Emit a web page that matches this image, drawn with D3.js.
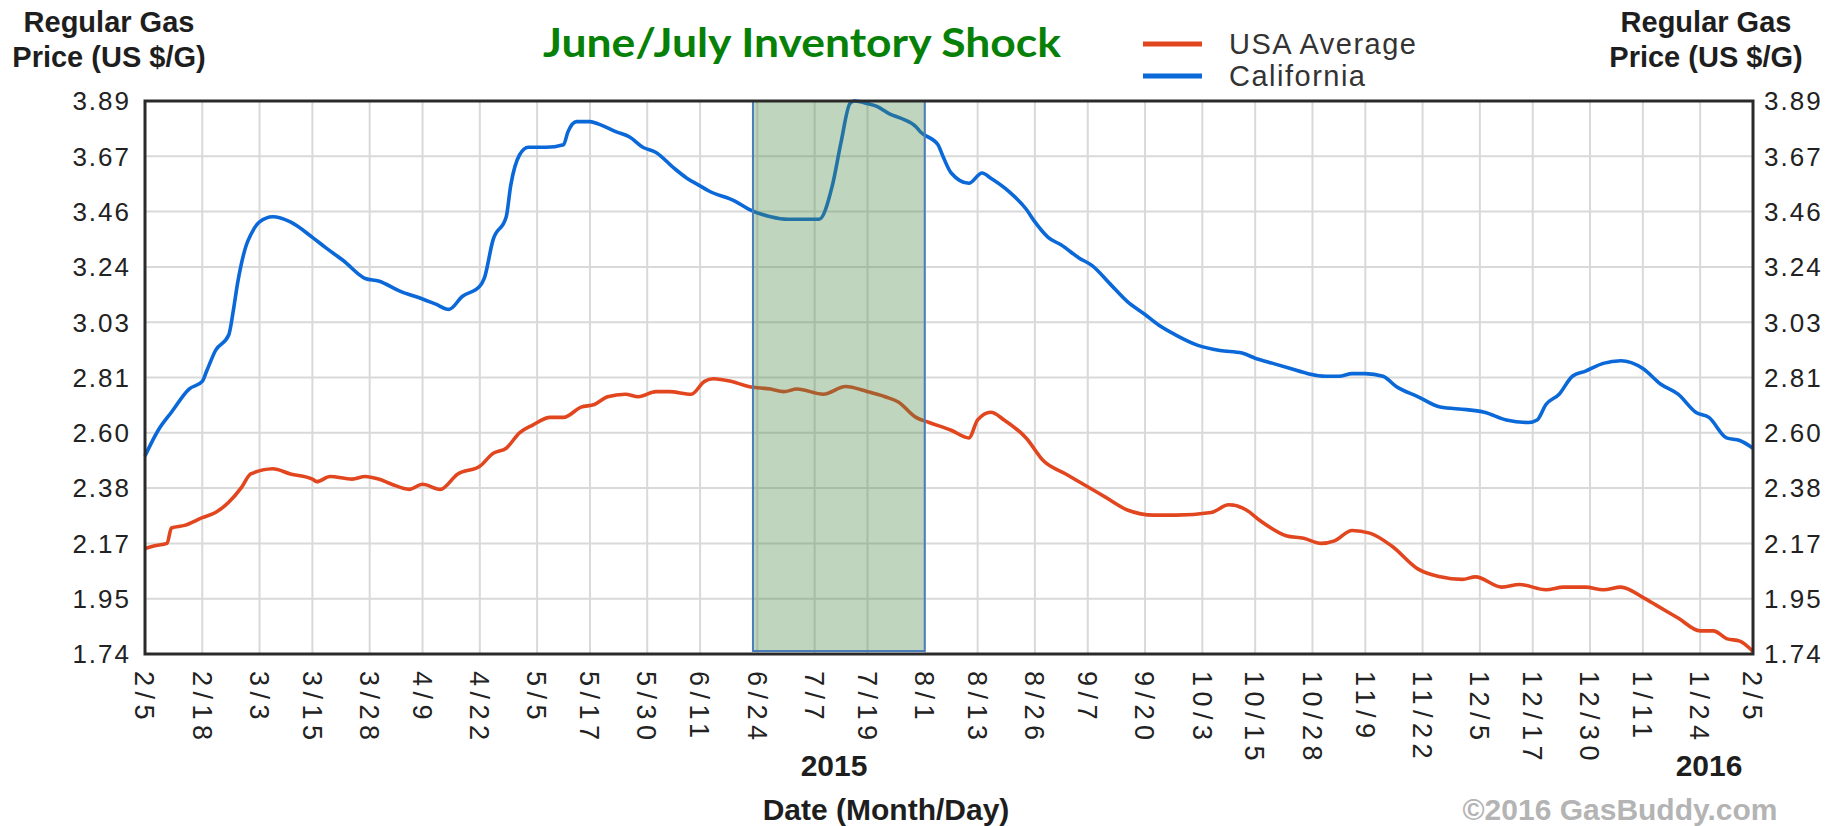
<!DOCTYPE html>
<html>
<head>
<meta charset="utf-8">
<script src="https://cdn.jsdelivr.net/npm/d3@7"></script>
<style>
  body { margin: 0; background: #fff; }
  svg text { font-family: "Liberation Sans", Arial, sans-serif; }
</style>
</head>
<body>
<svg id="chart" width="1839" height="826"></svg>
<script>
/* ================================
   DATA
================================ */

const tickDates = ["2015-02-05","2015-02-18","2015-03-03","2015-03-15","2015-03-28","2015-04-09",
  "2015-04-22","2015-05-05","2015-05-17","2015-05-30","2015-06-11","2015-06-24","2015-07-07",
  "2015-07-19","2015-08-01","2015-08-13","2015-08-26","2015-09-07","2015-09-20","2015-10-03",
  "2015-10-15","2015-10-28","2015-11-09","2015-11-22","2015-12-05","2015-12-17","2015-12-30",
  "2016-01-11","2016-01-24","2016-02-05"];

const yTickLabels = ["1.74","1.95","2.17","2.38","2.60","2.81","3.03","3.24","3.46","3.67","3.89"];

const caDates = ["2015-02-05","2015-02-08","2015-02-11","2015-02-15","2015-02-18","2015-02-19",
  "2015-02-21","2015-02-24","2015-02-25","2015-02-26","2015-02-28","2015-03-01","2015-03-03",
  "2015-03-06","2015-03-10","2015-03-15","2015-03-18","2015-03-22","2015-03-27","2015-03-30",
  "2015-04-04","2015-04-09","2015-04-12","2015-04-15","2015-04-18","2015-04-22","2015-04-23",
  "2015-04-25","2015-04-28","2015-04-29","2015-05-01","2015-05-03","2015-05-07","2015-05-11",
  "2015-05-12","2015-05-14","2015-05-17","2015-05-19","2015-05-23","2015-05-26","2015-05-29",
  "2015-06-01","2015-06-05","2015-06-08","2015-06-11","2015-06-13","2015-06-19","2015-06-22",
  "2015-06-27","2015-07-01","2015-07-06","2015-07-08","2015-07-11","2015-07-13","2015-07-15",
  "2015-07-16","2015-07-19","2015-07-21","2015-07-24","2015-07-27","2015-07-30","2015-07-31",
  "2015-08-04","2015-08-05","2015-08-07","2015-08-11","2015-08-14","2015-08-16","2015-08-20",
  "2015-08-24","2015-08-26","2015-08-29","2015-09-01","2015-09-05","2015-09-08","2015-09-12",
  "2015-09-16","2015-09-20","2015-09-23","2015-09-27","2015-10-02","2015-10-07","2015-10-12",
  "2015-10-15","2015-10-19","2015-10-23","2015-10-27","2015-10-31","2015-11-03","2015-11-06",
  "2015-11-09","2015-11-13","2015-11-16","2015-11-21","2015-11-26","2015-12-02","2015-12-06",
  "2015-12-11","2015-12-16","2015-12-18","2015-12-20","2015-12-23","2015-12-26","2015-12-29",
  "2016-01-02","2016-01-06","2016-01-11","2016-01-15","2016-01-19","2016-01-23","2016-01-26",
  "2016-01-30","2016-02-02","2016-02-05"];

const caPrices = [2.51,2.61,2.68,2.77,2.80,2.84,
  2.92,2.98,3.07,3.18,3.33,3.37,3.42,
  3.44,3.42,3.36,3.32,3.27,3.20,3.19,
  3.15,3.12,3.10,3.08,3.13,3.17,3.20,
  3.35,3.44,3.56,3.68,3.71,3.71,3.72,
  3.77,3.81,3.81,3.80,3.77,3.75,3.71,
  3.69,3.63,3.59,3.56,3.54,3.50,3.47,
  3.44,3.43,3.43,3.43,3.56,3.73,3.88,
  3.89,3.88,3.87,3.84,3.82,3.79,3.77,
  3.72,3.68,3.61,3.57,3.61,3.59,3.54,
  3.47,3.42,3.36,3.33,3.28,3.25,3.18,
  3.11,3.06,3.02,2.98,2.94,2.92,2.91,
  2.89,2.87,2.85,2.83,2.82,2.82,2.83,
  2.83,2.82,2.78,2.74,2.70,2.69,2.68,
  2.65,2.64,2.65,2.71,2.75,2.82,2.84,
  2.87,2.88,2.85,2.79,2.75,2.68,2.66,
  2.58,2.57,2.54];

const usDates = ["2015-02-05","2015-02-07","2015-02-10","2015-02-11","2015-02-14","2015-02-18",
  "2015-02-21","2015-02-24","2015-02-27","2015-03-01","2015-03-06","2015-03-10","2015-03-15",
  "2015-03-16","2015-03-19","2015-03-24","2015-03-27","2015-03-30","2015-04-02","2015-04-06",
  "2015-04-09","2015-04-13","2015-04-17","2015-04-22","2015-04-25","2015-04-28","2015-05-01",
  "2015-05-04","2015-05-08","2015-05-11","2015-05-15","2015-05-18","2015-05-21","2015-05-25",
  "2015-05-28","2015-06-01","2015-06-04","2015-06-09","2015-06-12","2015-06-14","2015-06-18",
  "2015-06-22","2015-06-27","2015-06-30","2015-07-03","2015-07-09","2015-07-14","2015-07-19",
  "2015-07-23","2015-07-26","2015-07-30","2015-08-02","2015-08-07","2015-08-11","2015-08-13",
  "2015-08-16","2015-08-19","2015-08-24","2015-08-28","2015-09-02","2015-09-06","2015-09-11",
  "2015-09-16","2015-09-22","2015-09-27","2015-10-05","2015-10-09","2015-10-13","2015-10-16",
  "2015-10-22","2015-10-26","2015-10-30","2015-11-02","2015-11-06","2015-11-10","2015-11-15",
  "2015-11-21","2015-11-26","2015-12-01","2015-12-04","2015-12-10","2015-12-14","2015-12-20",
  "2015-12-24","2015-12-29","2016-01-02","2016-01-06","2016-01-11","2016-01-14","2016-01-19",
  "2016-01-24","2016-01-27","2016-01-30","2016-02-02","2016-02-05"];

const usPrices = [2.15,2.16,2.17,2.23,2.24,2.27,
  2.29,2.33,2.39,2.44,2.46,2.44,2.42,
  2.41,2.43,2.42,2.43,2.42,2.40,2.38,
  2.40,2.38,2.44,2.47,2.52,2.54,2.60,
  2.63,2.66,2.66,2.70,2.71,2.74,2.75,
  2.74,2.76,2.76,2.75,2.80,2.81,2.80,
  2.78,2.77,2.76,2.77,2.75,2.78,2.76,
  2.74,2.72,2.66,2.64,2.61,2.58,2.65,
  2.68,2.65,2.58,2.49,2.44,2.40,2.35,
  2.30,2.28,2.28,2.29,2.32,2.30,2.26,
  2.20,2.19,2.17,2.18,2.22,2.21,2.16,
  2.07,2.04,2.03,2.04,2.00,2.01,1.99,
  2.00,2.00,1.99,2.00,1.96,1.93,1.88,
  1.83,1.83,1.80,1.79,1.75];

const shockStart = "2015-06-23";
const shockEnd = "2015-08-01";

const seriesNames = ["USA Average", "California"];
const seriesColors = ["#e2461f", "#0a68d8"];

/* ================================
   CHART
================================ */

const svg = d3.select("#chart");
const parse = d3.timeParse("%Y-%m-%d");
const fmt = d3.timeFormat("%-m/%-d");

const plotLeft = 145, plotRight = 1753, plotTop = 101, plotBottom = 654;

const x = d3.scaleTime()
  .domain([parse(tickDates[0]), parse(tickDates[tickDates.length - 1])])
  .range([plotLeft, plotRight]);

const y = d3.scaleLinear()
  .domain([+yTickLabels[0], +yTickLabels[yTickLabels.length - 1]])
  .range([plotBottom, plotTop]);

// evenly spaced value grid, labels rounded as in the original
const yStep = (y.domain()[1] - y.domain()[0]) / (yTickLabels.length - 1);
const yTicks = yTickLabels.map((t, i) => ({ label: t, v: y.domain()[0] + i * yStep }));

const ca = caDates.map((d, i) => ({ date: parse(d), price: caPrices[i] }));
const us = usDates.map((d, i) => ({ date: parse(d), price: usPrices[i] }));

// grid
const grid = svg.append("g").attr("stroke", "#d9d9d9").attr("stroke-width", 2);

grid.selectAll(".vg")
  .data(tickDates.slice(1, -1))
  .join("line")
  .attr("x1", d => x(parse(d))).attr("x2", d => x(parse(d)))
  .attr("y1", plotTop).attr("y2", plotBottom);

grid.selectAll(".hg")
  .data(yTicks.slice(1, -1))
  .join("line")
  .attr("x1", plotLeft).attr("x2", plotRight)
  .attr("y1", d => y(d.v)).attr("y2", d => y(d.v));

// lines
const line = d3.line()
  .x(d => x(d.date))
  .y(d => y(d.price))
  .curve(d3.curveMonotoneX);

[us, ca].forEach((s, i) => {
  svg.append("path")
    .datum(s)
    .attr("d", line)
    .attr("fill", "none")
    .attr("stroke", seriesColors[i])
    .attr("stroke-width", 3.6)
    .attr("stroke-linejoin", "round");
});

// June/July highlight box
svg.append("rect")
  .attr("x", x(parse(shockStart)))
  .attr("y", plotTop)
  .attr("width", x(parse(shockEnd)) - x(parse(shockStart)))
  .attr("height", plotBottom - plotTop - 3)
  .attr("fill", "#4f8a4b")
  .attr("fill-opacity", 0.36)
  .attr("stroke", "#4a7ebb")
  .attr("stroke-width", 2);

// frame
svg.append("rect")
  .attr("x", plotLeft).attr("y", plotTop)
  .attr("width", plotRight - plotLeft).attr("height", plotBottom - plotTop)
  .attr("fill", "none")
  .attr("stroke", "#2a2a2a")
  .attr("stroke-width", 3);

// y labels, both sides
const tickStyle = sel => sel
  .style("font-size", "26px")
  .style("letter-spacing", "2px")
  .style("fill", "#222");

svg.append("g").selectAll("text")
  .data(yTicks)
  .join("text")
  .attr("x", 131)
  .attr("y", d => y(d.v))
  .attr("dy", "0.36em")
  .attr("text-anchor", "end")
  .text(d => d.label)
  .call(tickStyle);

svg.append("g").selectAll("text")
  .data(yTicks)
  .join("text")
  .attr("x", 1764)
  .attr("y", d => y(d.v))
  .attr("dy", "0.36em")
  .text(d => d.label)
  .call(tickStyle);

// x labels, rotated
svg.append("g").selectAll("text")
  .data(tickDates)
  .join("text")
  .attr("transform", d => `translate(${x(parse(d))},${plotBottom + 17}) rotate(90)`)
  .attr("dy", "0.36em")
  .text(d => fmt(parse(d)))
  .call(tickStyle)
  .style("font-size", "27px")
  .style("letter-spacing", "5.5px");

// axis titles
[109, 1706].forEach(cx => {
  const t = svg.append("text")
    .attr("text-anchor", "middle")
    .style("font-size", "29px")
    .style("font-weight", "bold")
    .style("fill", "#1e1e1e");
  t.append("tspan").attr("x", cx).attr("y", 32).text("Regular Gas");
  t.append("tspan").attr("x", cx).attr("y", 67).text("Price (US $/G)");
});

const boldLabel = (text, cx, by, color) => svg.append("text")
  .attr("x", cx).attr("y", by)
  .attr("text-anchor", "middle")
  .style("font-size", "30px").style("font-weight", "bold").style("fill", color)
  .text(text);

boldLabel("2015", 834, 776, "#1e1e1e");
boldLabel("2016", 1709, 776, "#1e1e1e");
boldLabel("Date (Month/Day)", 886, 820, "#1e1e1e");
boldLabel("©2016 GasBuddy.com", 1620, 820, "#b4b4b4");

// title
svg.append("text")
  .attr("x", 543).attr("y", 57)
  .attr("textLength", 518)
  .attr("lengthAdjust", "spacingAndGlyphs")
  .style("font-family", "Lato, 'Open Sans', sans-serif")
  .style("font-size", "40px")
  .style("font-weight", "bold")
  .style("fill", "#078007")
  .text("June/July Inventory Shock");

// legend
seriesNames.forEach((name, i) => {
  const ly = 44 + i * 32;
  svg.append("line")
    .attr("x1", 1143).attr("x2", 1202)
    .attr("y1", ly).attr("y2", ly)
    .attr("stroke", seriesColors[i])
    .attr("stroke-width", 5);
  svg.append("text")
    .attr("x", 1229).attr("y", ly)
    .attr("dy", "0.34em")
    .style("font-size", "29px")
    .style("letter-spacing", "1.5px")
    .style("fill", "#333")
    .text(name);
});
</script>
</body>
</html>
